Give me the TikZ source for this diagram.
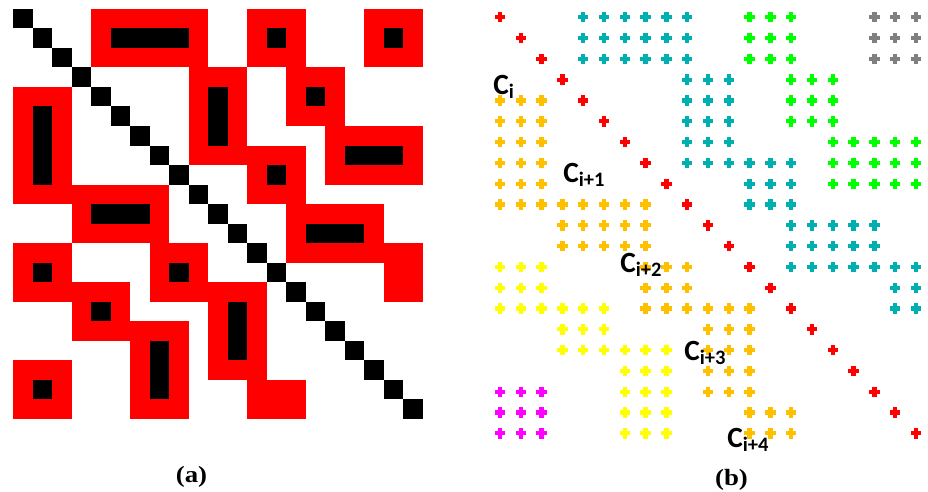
\documentclass[tikz,border=0pt]{standalone}
\usepackage{fontspec}
\newfontfamily\labfont{Carlito}
\newfontfamily\capfont{Liberation Serif}
\definecolor{ringred}{RGB}{255,0,0}
\definecolor{dotred}{RGB}{255,0,0}
\definecolor{dotcyan}{RGB}{0,176,176}
\definecolor{dotgreen}{RGB}{0,255,0}
\definecolor{dotgray}{RGB}{128,128,128}
\definecolor{dotorange}{RGB}{255,192,0}
\definecolor{dotyellow}{RGB}{255,255,0}
\definecolor{dotmagenta}{RGB}{255,0,255}

\begin{document}
\begin{tikzpicture}[x=0.75pt,y=-0.75pt,
  ring/.style={fill=ringred},
  bar/.style={fill=black},
  plusdot/.pic={
    \fill (-3.9pt,-1.6pt) rectangle (3.9pt,1.6pt);
    \fill (-1.6pt,-3.9pt) rectangle (1.6pt,3.9pt);
    \fill (-3.1pt,0pt) -- (0pt,-3.1pt) -- (3.1pt,0pt) -- (0pt,3.1pt) -- cycle;
  },
  clab/.style={anchor=base west, inner sep=0pt, font=\labfont\bfseries\fontsize{22}{26}\selectfont},
  panel/.style={inner sep=0pt, font=\capfont\bfseries\fontsize{17.5}{20}\selectfont}
]
  \useasboundingbox (0,0) rectangle (928,492);

  \begin{scope}[shift={(13.3,9)}, x=14.625pt, y=-14.625pt]
    \foreach \ca/\ra/\cb/\rb in {4/0/10/3, 12/0/15/3, 18/0/21/3, 9/3/12/8, 14/3/17/6,
        0/4/3/10, 16/6/21/9, 12/7/15/10, 3/9/8/12, 14/10/19/13, 19/12/21/15,
        0/12/3/15, 7/12/10/15, 3/14/6/17, 10/14/13/19, 12/19/15/21, 0/18/3/21, 6/16/9/21}
      \fill[ring] (\ca,\ra) rectangle (\cb,\rb);
    \foreach \ca/\ra/\cb/\rb in {5/1/9/2, 13/1/14/2, 19/1/20/2, 10/4/11/7, 15/4/16/5,
        1/5/2/9, 17/7/20/8, 13/8/14/9, 4/10/7/11, 15/11/18/12,
        1/13/2/14, 8/13/9/14, 4/15/5/16, 11/15/12/18, 1/19/2/20, 7/17/8/20}
      \fill[bar] (\ca,\ra) rectangle (\cb,\rb);
    \foreach \k in {0,...,20}
      \fill[bar] (\k,\k) rectangle ++(1,1);
  \end{scope}

  \begin{scope}[shift={(500,17.3)}, x=15.6pt, y=-15.6pt]
    \foreach \ca/\cb/\ra/\rb/\clr in {4/9/0/2/dotcyan, 9/11/3/7/dotcyan, 12/14/7/9/dotcyan,
        14/18/10/12/dotcyan, 19/20/12/14/dotcyan,
        12/14/0/2/dotgreen, 14/16/3/5/dotgreen, 16/20/6/8/dotgreen,
        18/20/0/2/dotgray,
        0/2/4/9/dotorange, 3/7/9/11/dotorange, 7/9/12/14/dotorange,
        10/12/14/18/dotorange, 12/14/19/20/dotorange,
        0/2/12/14/dotyellow, 3/5/14/16/dotyellow, 6/8/16/20/dotyellow,
        0/2/18/20/dotmagenta}
      \foreach \j in {\ca,...,\cb}
        \foreach \i in {\ra,...,\rb}
          \pic[color=\clr] at (\j,\i) {plusdot};
    \foreach \k in {0,...,20}
      \pic[color=dotred] at (\k,\k) {plusdot};
  \end{scope}

  \node[clab] (ci) at (493,94) {C\textsubscript{i}};
  \node[clab] (ci1) at (563,182) {C\textsubscript{i+1}};
  \node[clab] (ci2) at (620,272) {C\textsubscript{i+2}};
  \node[clab] (ci3) at (684,360) {C\textsubscript{i+3}};
  \node[clab] (ci4) at (727,447) {C\textsubscript{i+4}};

  \node[panel] (pa) at (191.5,477) {\scalebox{1.15}[1]{(a)}};
  \node[panel] (pb) at (731.5,480) {\scalebox{1.15}[1]{(b)}};
\end{tikzpicture}
\end{document}
